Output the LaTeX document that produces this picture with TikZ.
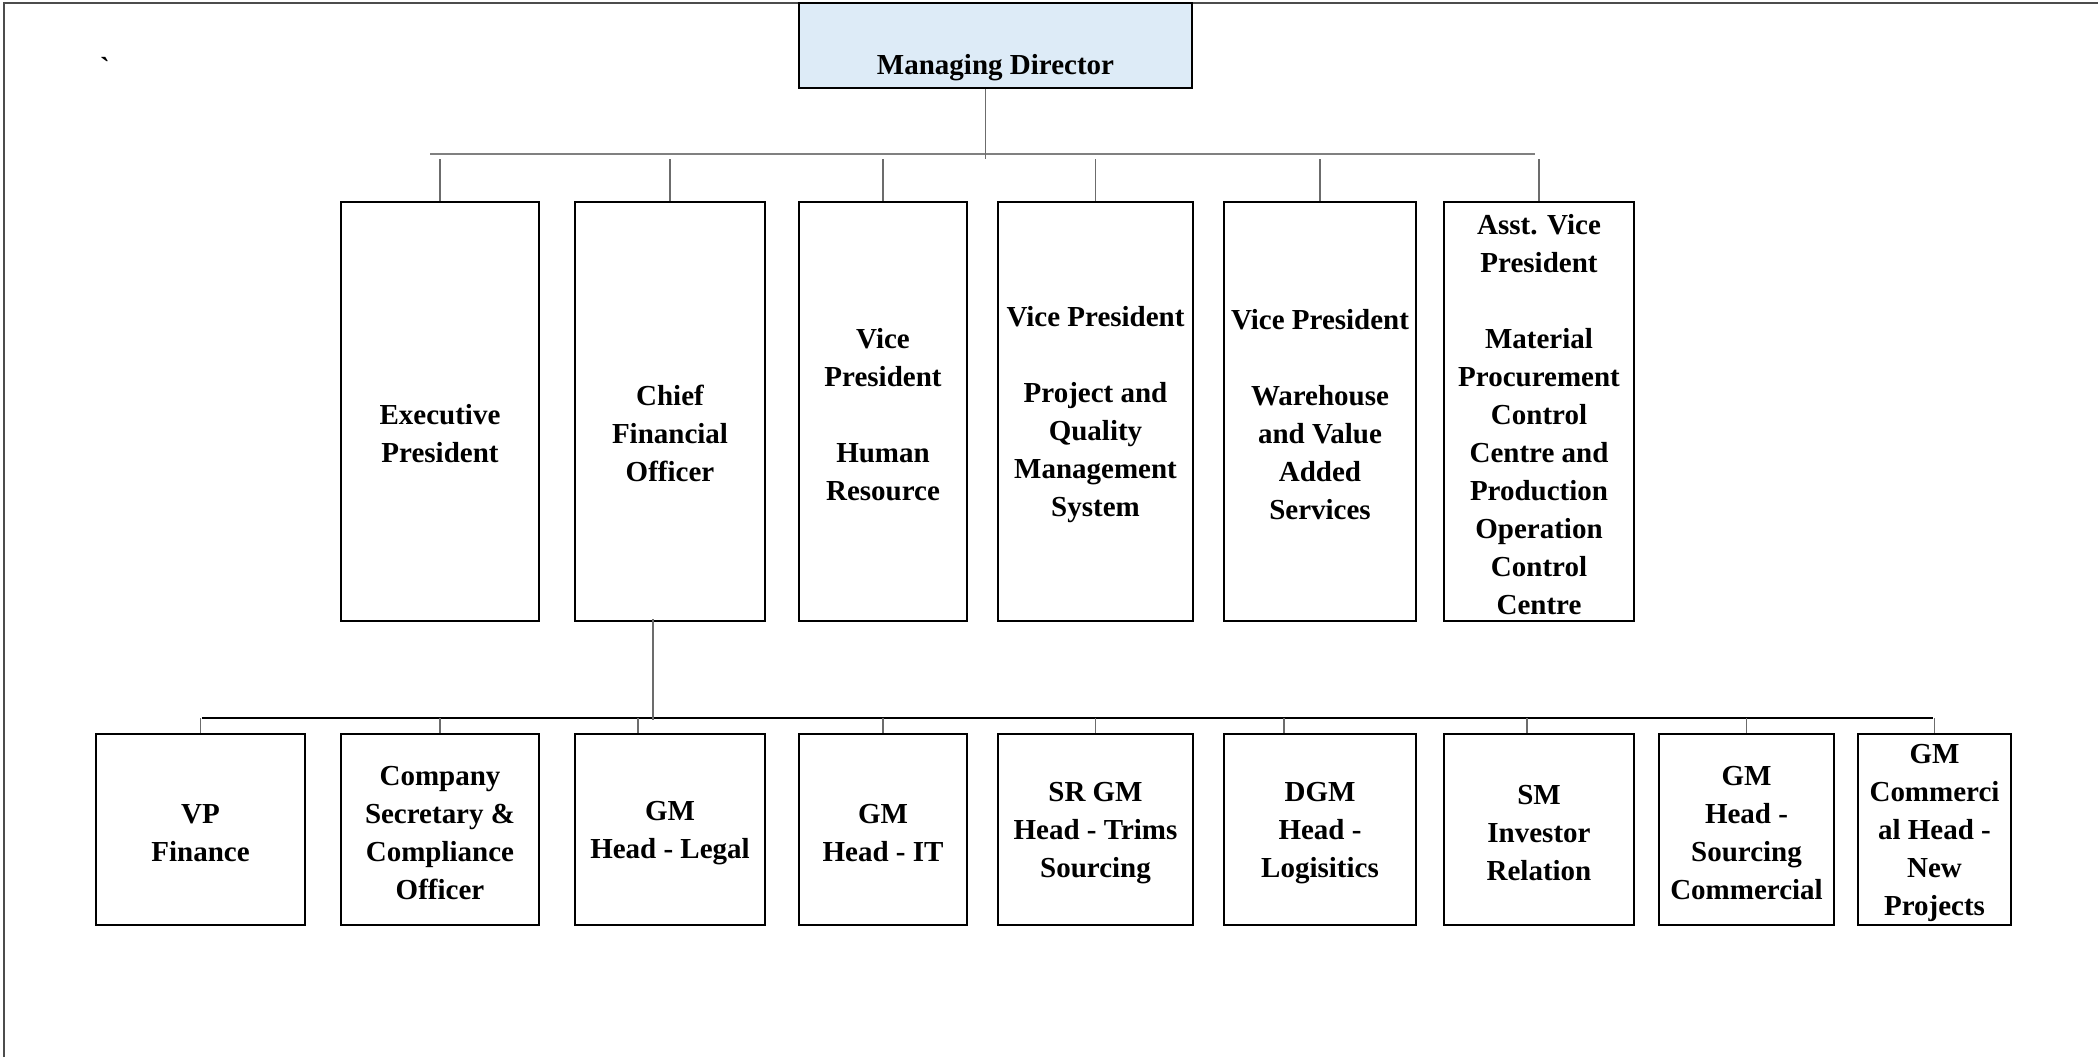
\documentclass[tikz,border=0pt]{standalone}
\usepackage{fontspec}
\setmainfont{Liberation Serif}[Ligatures={TeXOff,NoCommon}]
\definecolor{mdblue}{RGB}{221,235,247}
\begin{document}
\begin{tikzpicture}[x=0.1mm,y=-0.1mm,
  every node/.style={inner sep=0pt,align=center,font=\bfseries\fontsize{8.25}{10.8}\selectfont},
  post/.style={draw=black,line width=0.75pt,minimum height=41.9mm},
  staff/.style={draw=black,line width=0.75pt,minimum height=19.1mm},
  link/.style={draw=gray!85!black,line width=0.4pt},
  topbus/.style={draw=gray,line width=0.6pt},
  lowbus/.style={draw=black,line width=0.4pt}]
\useasboundingbox (0,0) rectangle (2098,1057);
\draw [gray!60!black,line width=0.6pt] (4,1057) -- (4,3) -- (2098,3);
\node (tick) at (105,67) {\symbol{96}};
\node [draw=black,line width=0.75pt,fill=mdblue,minimum width=39.3mm,minimum height=8.5mm] (md) at (995.5,45.5) {\strut\\Managing Director};
\node [post,minimum width=19.8mm] (ep) at (440,411.5) {\strut\\Executive\\President};
\node [post,minimum width=19mm] (cfo) at (670,411.5) {\strut\\Chief\\Financial\\Officer};
\node [post,minimum width=16.8mm] (vphr) at (883,411.5) {\strut Vice\\President\\[10.8pt]Human\\Resource};
\node [post,minimum width=19.5mm] (vpq) at (1095.5,411.5) {\strut Vice President\\[10.8pt]Project and\\Quality\\Management\\System};
\node [post,minimum width=19.2mm] (vpw) at (1320,411.5) {\strut Vice President\\[10.8pt]Warehouse\\and Value\\Added\\Services};
\node [post,minimum width=19mm] (avp) at (1539,411.5) {\strut Asst. Vice\\President\\[10.8pt]Material\\Procurement\\Control\\Centre and\\Production\\Operation\\Control\\Centre};
\node [staff,minimum width=20.9mm] (vpf) at (200.5,829.5) {\strut VP\\Finance};
\node [staff,minimum width=19.8mm] (cs) at (440,829.5) {\strut Company\\Secretary \&\\Compliance\\Officer};
\node [staff,minimum width=19mm] (gml) at (670,829.5) {\strut GM\\Head - Legal};
\node [staff,minimum width=16.8mm] (gmit) at (883,829.5) {\strut GM\\Head - IT};
\node [staff,minimum width=19.5mm] (srgm) at (1095.5,829.5) {\strut SR GM\\Head - Trims\\Sourcing};
\node [staff,minimum width=19.2mm] (dgm) at (1320,829.5) {\strut DGM\\Head -\\Logisitics};
\node [staff,minimum width=19mm] (sm) at (1539,829.5) {\strut SM\\Investor\\Relation};
\node [staff,minimum width=17.5mm] (gmsc) at (1746.5,829.5) {\strut GM\\Head -\\Sourcing\\Commercial};
\node [staff,minimum width=15.3mm] (gmnp) at (1934.5,829.5) {\strut GM\\Commerci\\al Head -\\New\\Projects};
\coordinate (topbusL) at (430,154);
\coordinate (topbusR) at (1535,154);
\coordinate (lowbusL) at (202,718);
\coordinate (lowbusR) at (1933,718);
\draw [topbus] (topbusL) -- (topbusR);
\draw [link] ([xshift=-1mm]md.south) -- ([xshift=-1mm,yshift=-0.5mm]md.south |- topbusL);
\foreach \n in {ep,cfo,vphr,vpq,vpw,avp}
  \draw [link] (\n.north) -- ([yshift=-0.5mm]\n.north |- topbusL);
\draw [lowbus] (lowbusL) -- (lowbusR);
\draw [link] ([xshift=-1.7mm,yshift=0.3mm]cfo.south) -- ([xshift=-1.7mm,yshift=-0.2mm]cfo.south |- lowbusL);
\foreach \n/\dx in {vpf/0,cs/0,gml/-3.2,gmit/0,srgm/0,dgm/-3.6,sm/-1.2,gmsc/0,gmnp/0}
  \draw [link] ([xshift=\dx mm]\n.north) -- ([xshift=\dx mm]\n.north |- lowbusL);
\end{tikzpicture}
\end{document}
